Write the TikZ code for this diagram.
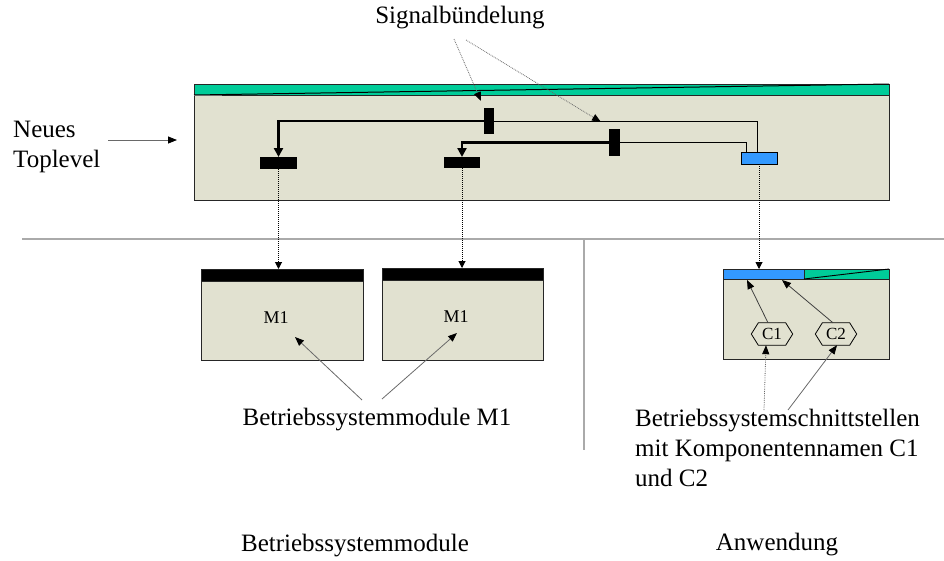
\documentclass[tikz,border=0pt]{standalone}
\usepackage{fontspec}
\setmainfont{Liberation Serif}
\usetikzlibrary{arrows.meta,calc}
\definecolor{panel}{RGB}{225,225,208}
\definecolor{headgreen}{RGB}{0,204,153}
\definecolor{portblue}{RGB}{51,153,255}
\definecolor{guide}{RGB}{105,105,105}
\definecolor{rule}{RGB}{170,170,170}
\begin{document}
\begin{tikzpicture}[x=1pt,y=-1pt,
  panelbox/.style={draw=black!85,fill=panel,line width=1pt,inner sep=0,outer sep=0},
  headbar/.style={draw=black!85,line width=0.9pt,inner sep=0,outer sep=0},
  port/.style={fill=black,inner sep=0,outer sep=0},
  bus/.style={line width=2.8pt,-{Triangle[length=9pt,width=9pt]}},
  wire/.style={line width=1pt},
  mapping/.style={densely dotted,line width=1pt,-{Triangle[length=7pt,width=7pt]}},
  pointer/.style={guide,line width=0.8pt,-{Triangle[length=9pt,width=7pt,color=black]}},
  dotpointer/.style={pointer,densely dotted},
  label/.style={font=\fontsize{25}{30}\selectfont,inner sep=0,align=left},
  small/.style={font=\fontsize{18}{20}\selectfont,inner sep=0},
  hexlabel/.style={font=\fontsize{17}{19}\selectfont,inner sep=0,minimum width=41,minimum height=22}
]
\useasboundingbox (0,0) rectangle (944,560);

% separators between the levels
\draw[rule,line width=1.2pt] (22,239) coordinate (sepL) -- (944,239) coordinate (sepR);
\draw[rule,line width=1.2pt] (584,239) coordinate (sepT) -- (584,450) coordinate (sepB);

% new top level
\node[panelbox,minimum width=695,minimum height=116] (top) at (541.5,142) {};
\node[headbar,fill=headgreen,anchor=north west,minimum width=695,minimum height=11] (topbar) at (top.north west) {};
\draw[line width=1pt] (topbar.south west) -- (topbar.north east);
\draw[guide,line width=1pt] (topbar.south west) -- ++(28,0);

\node[port,minimum width=10,minimum height=26] (b1) at (488.5,121) {};
\node[port,minimum width=11,minimum height=27] (b2) at (614,142.5) {};
\node[port,minimum width=37,minimum height=12] (r1) at (278.5,163) {};
\node[port,minimum width=36,minimum height=11] (r2) at (462,162.5) {};
\node[draw=black,fill=portblue,line width=1pt,inner sep=0,outer sep=0,minimum width=36,minimum height=12] (p3) at (759,158) {};

\draw[bus] (b1.west) -| (r1.north);
\draw[bus] (b2.west) -| (r2.north);
\draw[wire] (b1.east) -| ($(p3.north)+(-2,0)$);
\draw[wire] (b2.east) -| ($(p3.north west)+(5,0)$);

\node[label] (sig) at (460,18) {Signalbündelung};
\coordinate (sigA) at (454,39);
\coordinate (sigB) at (466,40);
\coordinate (tipA) at (481,101);
\coordinate (tipB) at (601,122);
\draw[dotpointer] (sigA) -- (tipA);
\draw[dotpointer] (sigB) -- (tipB);

\node[label,anchor=west] (nt) at (13,147) {Neues\\Toplevel};
\coordinate (ntA) at (108,140);
\coordinate (ntB) at (177,140);
\draw[pointer] (ntA) -- (ntB);

% operating system modules
\node[panelbox,minimum width=162,minimum height=91] (m1) at (282,314.5) {};
\node[headbar,fill=black,anchor=north west,minimum width=162,minimum height=12] (m1h) at (m1.north west) {};
\node[small] (m1t) at (276,318) {M1};
\node[panelbox,minimum width=161,minimum height=92] (m2) at (462.5,314) {};
\node[headbar,fill=black,anchor=north west,minimum width=161,minimum height=12] (m2h) at (m2.north west) {};
\node[small] (m2t) at (456,317) {M1};

\draw[mapping] (r1.south) -- (r1.south |- m1h.north);
\draw[mapping] (r2.south) -- (r2.south |- m2h.north);

\node[label] (bsm) at (377,420) {Betriebssystemmodule M1};
\coordinate (bsmA) at (362,400);
\coordinate (bsmB) at (382,399);
\coordinate (m1tip) at (295,337);
\coordinate (m2tip) at (457,333);
\draw[pointer] (bsmA) -- (m1tip);
\draw[pointer] (bsmB) -- (m2tip);

% application
\node[panelbox,minimum width=166,minimum height=90] (app) at (806,314) {};
\node[headbar,fill=portblue,anchor=north west,minimum width=81,minimum height=10] (ah1) at (app.north west) {};
\node[headbar,fill=headgreen,anchor=north west,minimum width=85,minimum height=10] (ah2) at (ah1.north east) {};
\draw[line width=0.9pt] (ah2.south west) -- (ah2.north east);

\draw[mapping] (p3.south) -- (p3.south |- ah1.north);

\node[hexlabel] (c1) at (772,334) {C1};
\node[hexlabel] (c2) at (836,334) {C2};
\foreach \h in {c1,c2}{
  \draw[line width=0.8pt] (\h.west) -- ($(\h.north west)+(7,0)$) -- ($(\h.north east)+(-7,0)$)
    -- (\h.east) -- ($(\h.south east)+(-7,0)$) -- ($(\h.south west)+(7,0)$) -- cycle;
}
\coordinate (c1tip) at (747,280);
\coordinate (c2tip) at (782,280);
\draw[pointer,black!75] ($(c1.north)+(-4,0)$) -- (c1tip);
\draw[pointer,black!75] ($(c2.north)+(-3,0)$) -- (c2tip);

\node[label,anchor=north west] (bsi) at (635,409) {Betriebssystemschnittstellen\\mit Komponentennamen C1\\und C2};
\coordinate (bsiA) at (764,410);
\coordinate (bsiB) at (788,410);
\draw[dotpointer] (bsiA) -- ($(c1.south)+(-6,0)$);
\draw[pointer] (bsiB) -- ($(c2.south)+(1,0)$);

% area captions
\node[label] (osm) at (355,546) {Betriebssystemmodule};
\node[label] (appl) at (777,545) {Anwendung};
\end{tikzpicture}
\end{document}
